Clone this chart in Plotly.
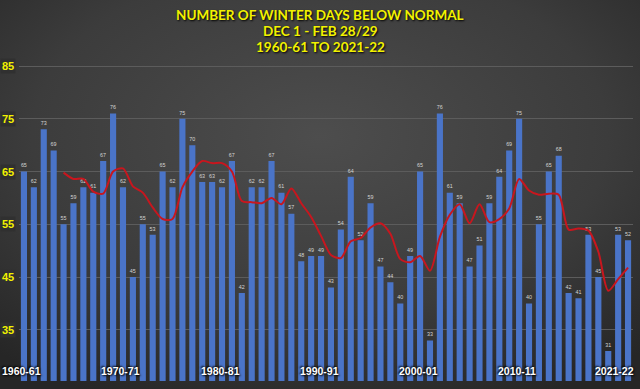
import plotly.graph_objects as go
import base64

seasons = [f"{y}-{str(y+1)[-2:]}" for y in range(1960, 2022)]
days_below = [65, 62, 73, 69, 55, 59, 62, 61, 67, 76, 62, 45, 55, 53, 65, 62, 75, 70, 63, 63,
              62, 67, 42, 62, 62, 67, 61, 57, 48, 49, 49, 43, 54, 64, 52, 59, 47, 44, 40, 49,
              65, 33, 76, 61, 59, 47, 51, 59, 64, 69, 75, 40, 55, 65, 68, 42, 41, 53, 45, 31,
              53, 52]
# 5-season moving average (trendline), starting with 1964-65
ma_seasons = seasons[4:]
ma_values = [64.8, 63.6, 63.6, 61.2, 60.8, 65.0, 65.6, 62.2, 61.0, 58.2, 56.0, 56.0, 62.0, 65.0,
             67.0, 66.6, 66.6, 65.0, 59.4, 59.2, 59.0, 60.0, 58.8, 61.8, 59.0, 56.4, 52.8, 49.2,
             48.6, 51.8, 52.4, 54.4, 55.2, 53.2, 48.4, 47.8, 49.0, 46.2, 52.6, 56.8, 58.8, 55.2,
             58.8, 55.4, 56.0, 58.0, 63.6, 61.4, 60.6, 60.8, 60.6, 54.0, 54.2, 53.8, 49.8, 42.4,
             44.6, 46.8]
x_labels = ["1960-61", "1970-71", "1980-81", "1990-91", "2000-01", "2010-11", "2021-22"]
y_ticks = [35, 45, 55, 65, 75, 85]
title_lines = ["NUMBER OF WINTER DAYS BELOW NORMAL", "DEC 1 - FEB 28/29", "1960-61 TO 2021-22"]

svg = """<svg xmlns='http://www.w3.org/2000/svg' width='640' height='389'>
<defs><radialGradient id='g' cx='50%' cy='35%' r='75%'>
<stop offset='0%' stop-color='#4d4d4d'/><stop offset='60%' stop-color='#3c3c3c'/>
<stop offset='100%' stop-color='#262626'/></radialGradient></defs>
<rect width='640' height='389' fill='url(#g)'/></svg>"""
bg_uri = "data:image/svg+xml;base64," + base64.b64encode(svg.encode()).decode()

fig = go.Figure()
fig.add_trace(go.Bar(
    x=seasons, y=days_below,
    marker=dict(color="#4a74c8", line=dict(width=0)),
    text=[str(v) for v in days_below], textposition="outside",
    textfont=dict(size=8.5, color="#d4d4d4", family="Liberation Sans"),
    cliponaxis=False, hoverinfo="x+y",
))
fig.add_trace(go.Scatter(
    x=ma_seasons, y=ma_values, mode="lines",
    line=dict(color="#c8161e", width=2, shape="spline", smoothing=0.8),
    hoverinfo="skip",
))

annotations = []
for lab in x_labels:
    last = lab == x_labels[-1]
    annotations.append(dict(
        x=lab, y=0, xref="x", yref="paper", yanchor="bottom",
        xanchor="right" if last else "center",
        xshift=8 if last else -2, yshift=2,
        text=f"<b>{lab}</b>", showarrow=False,
        font=dict(size=10.5, color="white", family="Liberation Sans",
                  shadow="1px 1px 2px #000, -1px -1px 2px #000"),
    ))
for yt in y_ticks:
    annotations.append(dict(
        x=0, y=yt, xref="paper", yref="y", xanchor="right", yanchor="middle",
        xshift=-3, text=f"<b>{yt}</b>", showarrow=False, bgcolor="#303030",
        borderpad=1,
        font=dict(size=11, color="#f2f200", family="Liberation Sans"),
    ))
for i, line in enumerate(title_lines):
    annotations.append(dict(
        x=(320 - 19) / 614, y=[1.126, 1.078, 1.029][i], xref="paper", yref="paper",
        xanchor="center", yanchor="middle", text=f"<b>{line}</b>", showarrow=False,
        borderpad=0,
        font=dict(size=13.5, color="#f2f200", family="Lato",
                  shadow="1px 1px 2px #000"),
    ))

fig.update_layout(
    width=640, height=389,
    margin=dict(l=19, r=7, t=56, b=8),
    paper_bgcolor="#3c3c3c", plot_bgcolor="rgba(0,0,0,0)",
    images=[dict(source=bg_uri, xref="paper", yref="paper", x=-19/614, y=1 + 56/325,
                 sizex=640/614, sizey=389/325, xanchor="left", yanchor="top",
                 sizing="stretch", layer="below")],
    showlegend=False,
    bargap=0.38,
    xaxis=dict(type="category", range=[-0.5, len(seasons) - 0.5], showticklabels=False,
               showgrid=False, zeroline=False, showline=False, ticks=""),
    yaxis=dict(range=[25.3, 86.9], tickvals=y_ticks, showticklabels=False,
               showgrid=True, gridcolor="#5c5c5c", gridwidth=1, zeroline=False,
               showline=False),
    annotations=annotations,
)

fig.write_html("out.html", config={"displayModeBar": False},
               post_script="document.body.style.margin='0';document.body.style.overflow='hidden';")
